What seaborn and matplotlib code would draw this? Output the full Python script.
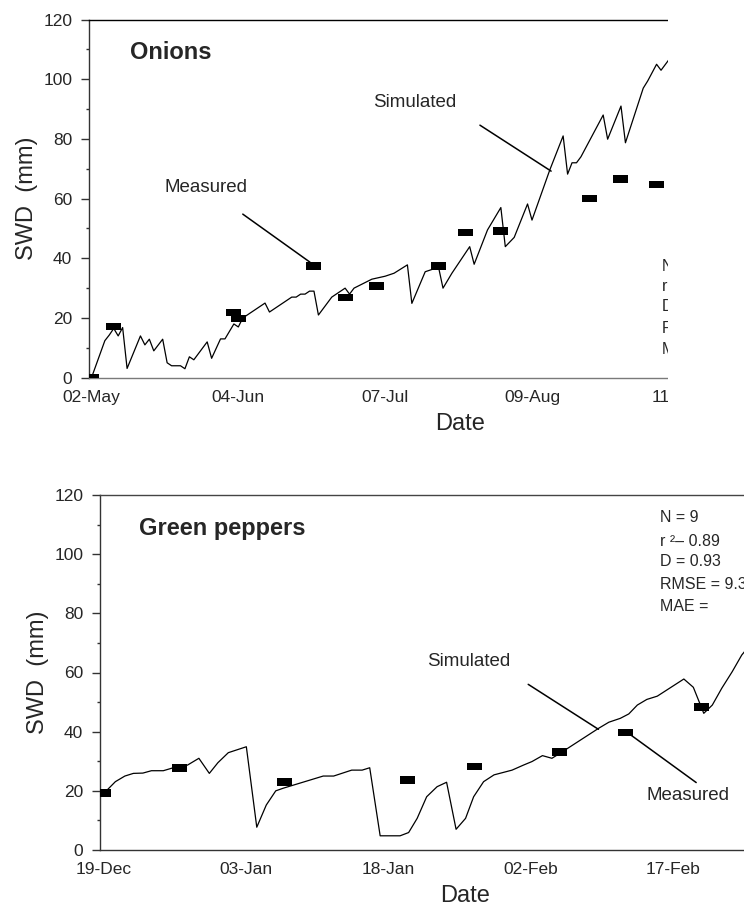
import numpy as np
import pandas as pd
import matplotlib
matplotlib.use("Agg")
import matplotlib.pyplot as plt
from matplotlib.ticker import MultipleLocator, AutoMinorLocator
from matplotlib.markers import MarkerStyle
from matplotlib.path import Path
from matplotlib.patches import Rectangle
import seaborn as sns

# ---------------- data ----------------
# Onions: soil water deficit, days counted from 02-May
onion_start = "2001-05-02"
onion_sim_days = [0, 3, 4, 5, 6, 7, 8, 11, 12, 13, 14, 16, 17, 18, 20, 21, 22, 23,
                  26, 27, 29, 30, 32, 33, 34, 39, 40, 45, 46, 47, 48, 49, 50, 51,
                  54, 57, 58, 59, 63, 66, 68, 71, 72, 75, 78, 79, 81, 85, 86, 89,
                  92, 93, 95, 98, 99, 103, 106, 107, 108, 109, 110, 115, 116, 119,
                  120, 124, 125, 127, 128, 130]
onion_sim_swd = [0, 12.4, 14.3, 16.5, 14, 16.8, 3.1, 14, 11, 12.9, 9, 12.9, 5, 4, 4, 3, 7, 6,
                 12, 6.5, 13, 13, 18, 17, 20, 25, 22, 27, 27, 28, 28, 29, 29, 21,
                 27, 30, 28, 30, 33, 34, 35, 37.8, 24.9, 35.5, 37, 30, 35, 43.9, 38, 49.5,
                 57, 43.9, 47, 58.2, 52.8, 69.6, 81, 68.2, 72, 72, 74, 88, 79.9, 91,
                 78.7, 97, 99.4, 105, 103, 107]
onion_obs_days = [0, 5, 32, 33, 50, 57, 64, 78, 84, 92, 112, 119, 127]
onion_obs_swd = [0, 17.1, 21.9, 19.9, 37.5, 26.8, 30.7, 37.4, 48.6, 49.1, 60.1, 66.6, 64.8]
onion_tick_labels = ["02-May", "04-Jun", "07-Jul", "09-Aug", "11-Sep"]

# Green peppers: soil water deficit, days counted from 19-Dec
pepper_start = "2001-12-19"
pepper_sim_days = [0, 1.2, 2.2, 3.1, 4.1, 5.0, 6.25, 7.3, 8.8, 10.0, 11.1, 12.0, 13.1, 15.0,
                   16.1, 17.1, 18.1, 18.9, 23.1, 24.2, 26.1, 27.2, 28.0, 29.1, 31.2, 32.1,
                   33.0, 34.0, 35.1, 36.1, 37.1, 38.1, 38.95, 40.0, 41.1, 43.0, 44.2,
                   45.1, 46.2, 47.2, 48.3, 52.1, 53.2, 54.4, 55.3, 56.2, 57.2, 58.3,
                   61.1, 62.1, 63.2, 64.1, 65.1, 66.2, 67.2, 68.5]
pepper_sim_swd = [19.2, 23.1, 25, 25.9, 26, 26.8, 26.8, 27.8, 28.7, 31, 25.9, 29.5, 32.9, 34.9,
                  7.7, 15.2, 20, 20.9, 25, 25, 27, 27, 27.8, 4.8, 4.8, 5.9,
                  10.7, 18, 21.4, 22.9, 7, 10.7, 18, 23.1, 25.4, 27, 28.7,
                  29.9, 31.9, 31, 33.2, 41.1, 43.2, 44.5, 46, 49, 50.9, 52,
                  57.8, 55, 46.2, 49, 54.7, 60.3, 65.9, 71]
pepper_obs_days = [0, 8, 19, 32, 39, 48, 55, 63]
pepper_obs_swd = [19.2, 27.8, 22.9, 23.7, 28.2, 33.2, 39.8, 48.4]
pepper_tick_labels = ["19-Dec", "03-Jan", "18-Jan", "02-Feb", "17-Feb"]


def to_dates(start, days):
    return pd.Timestamp(start) + pd.to_timedelta(np.asarray(days, dtype=float), unit="D")


# ---------------- style ----------------
sns.set_style("ticks")
plt.rcParams["font.family"] = ["Liberation Sans", "DejaVu Sans"]

W, H = 744, 906
fig = plt.figure(figsize=(W / 100, H / 100), dpi=100)

# flat black bar marker used for the measured values
bar_marker = MarkerStyle(Path([(-1, -0.5), (1, -0.5), (1, 0.5), (-1, 0.5), (-1, -0.5)],
                              [Path.MOVETO, Path.LINETO, Path.LINETO, Path.LINETO, Path.CLOSEPOLY]))


def style_axes(ax, start, step, labels, xlim_days):
    base = pd.Timestamp(start)
    ticks = [base + pd.Timedelta(days=step * i) for i in range(len(labels))]
    ax.set_xticks(ticks)
    ax.set_xticklabels(labels)
    ax.set_xlim(base + pd.Timedelta(days=xlim_days[0]), base + pd.Timedelta(days=xlim_days[1]))
    ax.set_ylim(0, 120)
    ax.yaxis.set_major_locator(MultipleLocator(20))
    ax.yaxis.set_minor_locator(AutoMinorLocator(2))
    ax.tick_params(axis="y", which="major", length=6, width=1, direction="out",
                   labelsize=12.5, pad=6, color="#333333")
    ax.tick_params(axis="y", which="minor", length=2.5, width=1, direction="out", color="#333333")
    ax.tick_params(axis="x", which="both", length=0, labelsize=12.5, pad=8.5)
    for s in ax.spines.values():
        s.set_linewidth(1.0)
        s.set_color("#333333")
    ax.set_xlabel("Date", fontsize=17, labelpad=6)
    ax.set_ylabel("SWD  (mm)", fontsize=17, labelpad=4)
    ax.grid(False)


def stat_block(ax, start, x_day, rows):
    base = pd.Timestamp(start)
    for text, y in rows:
        ax.text(base + pd.Timedelta(days=x_day), y, text, fontsize=11.5, va="center", ha="left")


def leader(ax, start, d0, v0, d1, v1):
    base = pd.Timestamp(start)
    ax.annotate("", xy=(base + pd.Timedelta(days=d1), v1), xytext=(base + pd.Timedelta(days=d0), v0),
                arrowprops=dict(arrowstyle="-", lw=1.1, color="black", shrinkA=0, shrinkB=0))


# ---------------- onions ----------------
ax1 = fig.add_axes([89 / W, (H - 377.7) / H, 742 / W, 358.2 / H])
sns.lineplot(x=to_dates(onion_start, onion_sim_days), y=onion_sim_swd, ax=ax1,
             color="black", linewidth=0.9)
sns.scatterplot(x=to_dates(onion_start, onion_obs_days), y=onion_obs_swd, ax=ax1,
                marker=bar_marker, s=117, color="black", edgecolor="none", linewidth=0, zorder=3)
style_axes(ax1, onion_start, 33, onion_tick_labels, (-0.56, 166.2))
ax1.spines["bottom"].set_color("#7a7a7a")
ax1.spines["top"].set_color("black")

ob = pd.Timestamp(onion_start)
ax1.text(ob + pd.Timedelta(days=8.65), 109.1, "Onions", fontsize=17, fontweight="bold",
         va="center", ha="left")
ax1.text(ob + pd.Timedelta(days=25.7), 63.8, "Measured", fontsize=13.5, va="center", ha="center")
leader(ax1, onion_start, 34.0, 54.8, 49.1, 38.7)
ax1.text(ob + pd.Timedelta(days=72.6), 92.1, "Simulated", fontsize=13.5, va="center", ha="center")
leader(ax1, onion_start, 87.3, 84.6, 103.3, 69.2)
stat_block(ax1, onion_start, 128.2,
           [("N = 13", 37.2), ("r \u00b2=", 30.5), ("D =", 23.8), ("RMSE =", 16.5), ("MAE =", 9.3)])

# ---------------- green peppers ----------------
ax2 = fig.add_axes([100 / W, 56 / H, 730 / W, 355 / H])
sns.lineplot(x=to_dates(pepper_start, pepper_sim_days), y=pepper_sim_swd, ax=ax2,
             color="black", linewidth=0.9)
sns.scatterplot(x=to_dates(pepper_start, pepper_obs_days), y=pepper_obs_swd, ax=ax2,
                marker=bar_marker, s=117, color="black", edgecolor="none", linewidth=0, zorder=3)
style_axes(ax2, pepper_start, 15, pepper_tick_labels, (-0.42, 76.5))
ax2.spines["top"].set_color("#444444")

pb = pd.Timestamp(pepper_start)
ax2.text(pb + pd.Timedelta(days=3.7), 108.6, "Green peppers", fontsize=17, fontweight="bold",
         va="center", ha="left")
ax2.text(pb + pd.Timedelta(days=38.4), 63.7, "Simulated", fontsize=13.5, va="center", ha="center")
leader(ax2, pepper_start, 44.7, 56.0, 52.1, 40.8)
ax2.text(pb + pd.Timedelta(days=61.5), 18.3, "Measured", fontsize=13.5, va="center", ha="center")
leader(ax2, pepper_start, 55.5, 38.9, 62.4, 22.8)
stat_block(ax2, pepper_start, 58.6,
           [("N = 9", 112.3), ("r \u00b2\u2013 0.89", 104.2), ("D = 0.93", 97.5),
            ("RMSE = 9.3", 89.6), ("MAE =", 82.3)])

# the onion panel is trimmed on its right-hand side
fig.add_artist(Rectangle((667.5 / W, (H - 445) / H), 1, 1, transform=fig.transFigure,
                         facecolor="white", edgecolor="none", zorder=20))

fig.savefig("out.png", dpi=100)
